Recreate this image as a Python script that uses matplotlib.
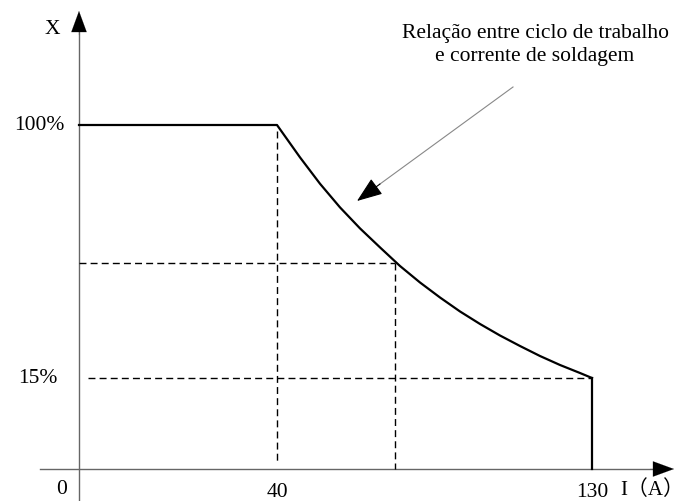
import numpy as np
import matplotlib
matplotlib.use("Agg")
import matplotlib.pyplot as plt

# ---- data (schematic duty-cycle curve) ----
x_ticks = [0, 40, 130]
x_tick_labels = ["0", "40", "130"]
y_ticks = [15, 100]
y_tick_labels = ["15%", "100%"]

current = [40, 46.57, 52.29, 58.0, 63.71, 69.43, 75.14, 80.86, 86.57, 92.29,
           98.0, 103.71, 109.43, 115.14, 120.86, 126.57, 130]
duty = [100, 89.13, 80.26, 72.32, 65.27, 58.88, 52.63, 47.09, 42.05, 37.35,
        33.15, 29.28, 25.75, 22.39, 19.37, 16.68, 15]

mid_current = 73.7
mid_duty = 53.6

annotation = "Relação entre ciclo de trabalho\ne corrente de soldagem"

# ---- schematic (non-uniform) axis scales ----
xk_val = np.array([-1000, 0, 40, 130, 1000])
xk_pos = np.array([79 - 1000 * 4.95, 79, 277, 592, 592 + 870 * 3.5])
yk_val = np.array([-1000, 0, 15, 100, 1000])
yk_pos = np.array([32 - 1000 * 6.07, 32, 123, 376, 376 + 900 * 2.976])

def fx(v):
    return np.interp(v, xk_val, xk_pos)

def ix(p):
    return np.interp(p, xk_pos, xk_val)

def fy(v):
    return np.interp(v, yk_val, yk_pos)

def iy(p):
    return np.interp(p, yk_pos, yk_val)

def py(pix):
    # pixel row from top -> data value
    return iy(502 - pix)

fig = plt.figure(figsize=(6.87, 5.02), dpi=100)
ax = fig.add_axes([0, 0, 1, 1])
ax.set_xscale("function", functions=(fx, ix))
ax.set_yscale("function", functions=(fy, iy))
ax.set_xlim(ix(0), ix(687))
ax.set_ylim(iy(0), iy(502))
ax.axis("off")

serif = ["Liberation Serif", "DejaVu Serif"]
cjk = ["Liberation Serif", "Noto Sans CJK SC"]

# axes with arrows
axis_col = "#666666"
ax.plot([ix(40), ix(655)], [0, 0], color=axis_col, lw=1.0)
ax.plot([0, 0], [py(502), py(30)], color=axis_col, lw=1.0)
head = dict(arrowstyle="-|>,head_length=1.5,head_width=0.55",
            color="black", lw=0.1, shrinkA=0, shrinkB=0)
ax.annotate("", xy=(ix(674), 0), xytext=(ix(650), 0), arrowprops=head)
ax.annotate("", xy=(0, py(12)), xytext=(0, py(36)), arrowprops=head)

# dashed guides
dash = dict(color="black", lw=1.0, linestyle=(0, (5, 3)))
ax.plot([40, 40], [py(132), py(463)], **dash)
ax.plot([ix(88), 130], [15, 15], **dash)
ax.plot([0, mid_current], [mid_duty, mid_duty], **dash)
ax.plot([mid_current, mid_current], [mid_duty, 0], **dash)

# main curve
ax.plot([0] + current, [100] + duty, color="black", lw=1.6, solid_joinstyle="round")
ax.plot([130, 130], [15, 0], color="black", lw=1.6)

# tick labels
fs = 15.5
ax.text(ix(65), 100, y_tick_labels[1], ha="right", va="center", fontsize=fs, family=serif)
ax.text(ix(58), 15, y_tick_labels[0], ha="right", va="center", fontsize=fs, family=serif)
ax.text(ix(62), py(490), x_tick_labels[0], ha="center", va="center", fontsize=fs, family=serif)
ax.text(40, py(493), x_tick_labels[1], ha="center", va="center", fontsize=fs, family=serif)
ax.text(130, py(492), x_tick_labels[2], ha="center", va="center", fontsize=fs, family=serif)
ax.text(ix(52), py(30), "X", ha="center", va="center", fontsize=fs, family=serif)
ax.text(ix(684), py(490), "I（A）", ha="right", va="center", fontsize=15, family=cjk)

# annotation
ax.plot([ix(513), ix(380)], [py(88), py(185)], color="#888888", lw=0.8)
ax.annotate("", xy=(ix(357), py(202)), xytext=(ix(380), py(185)),
            arrowprops=dict(arrowstyle="-|>,head_length=1.6,head_width=0.6",
                            color="black", lw=0.8, shrinkA=0, shrinkB=0))
ax.text(ix(535), py(45), annotation, ha="center", va="center",
        fontsize=fs, family=serif, linespacing=1.25)

fig.savefig("out.png", dpi=100)
